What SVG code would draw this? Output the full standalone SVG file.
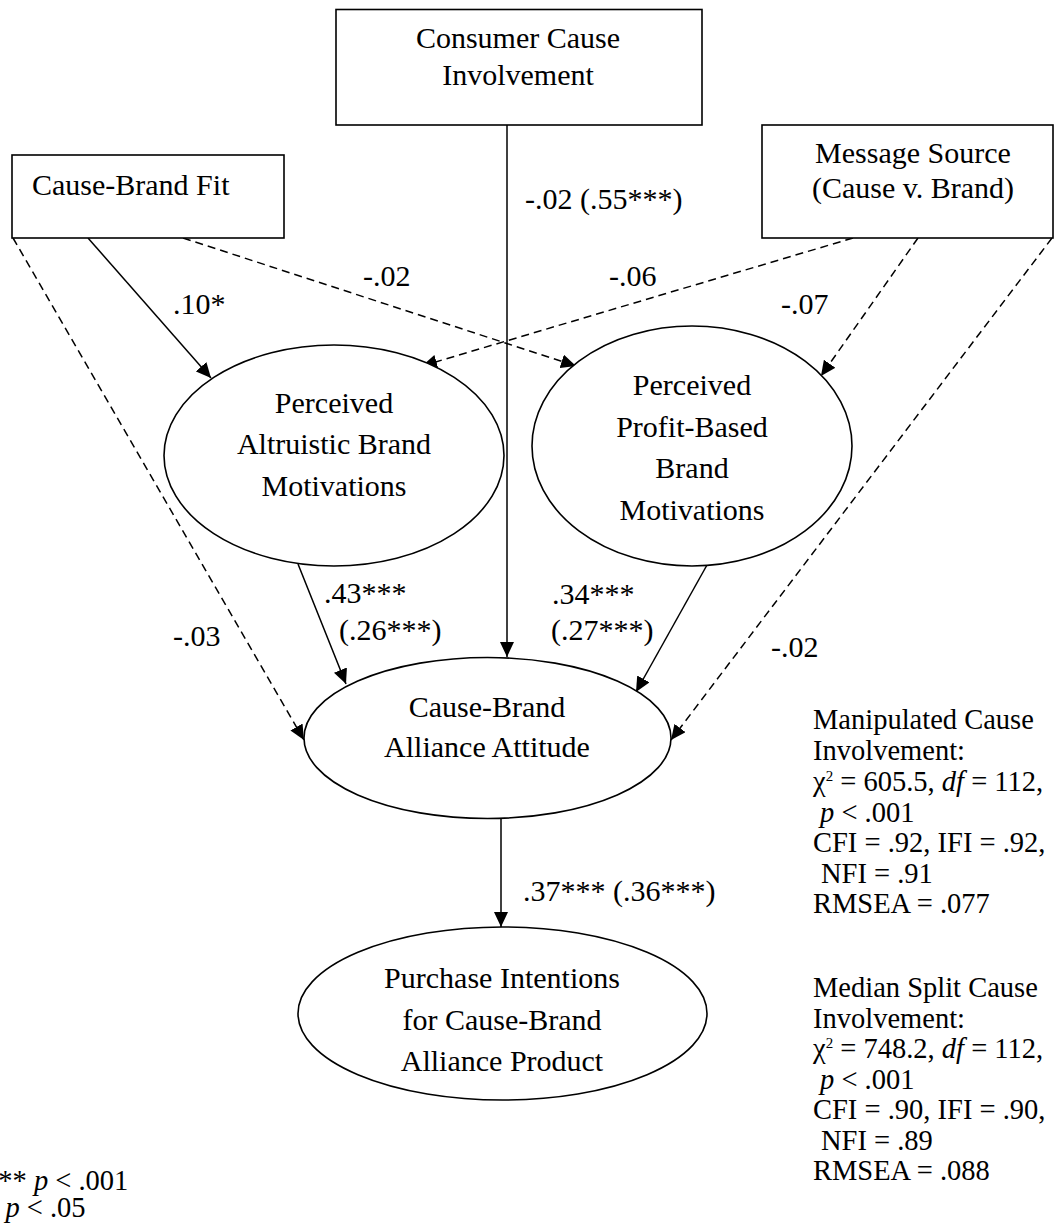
<svg xmlns="http://www.w3.org/2000/svg" width="1055" height="1232" viewBox="0 0 1055 1232">
  <style>
    .box { fill: #fff; stroke: #000; stroke-width: 1.6; }
    .oval { fill: #fff; stroke: #000; stroke-width: 1.6; }
    .t { font-family: "Liberation Serif", "Times New Roman", serif; font-size: 30px; fill: #000; }
    .c { text-anchor: middle; }
    .s { font-family: "Liberation Serif", "Times New Roman", serif; font-size: 28.5px; fill: #000; }
    .i { font-style: italic; }
    .sup { font-size: 15px; }
    .solid { fill: none; stroke: #000; stroke-width: 1.5; marker-end: url(#arrow); }
    .dash { fill: none; stroke: #000; stroke-width: 1.5; stroke-dasharray: 8 5; marker-end: url(#arrow); }
  </style>
  <defs>
    <marker id="arrow" markerUnits="userSpaceOnUse" markerWidth="16" markerHeight="14" refX="15" refY="7" orient="auto">
      <path d="M0,0 L15,7 L0,14 Z" fill="#000"/>
    </marker>
  </defs>
  <rect width="1055" height="1232" fill="#fff"/>

  <!-- paths between constructs -->
  <g id="connectors">
    <line class="solid" x1="507" y1="125" x2="507" y2="657"/>
    <line class="solid" x1="88" y1="238" x2="211" y2="378"/>
    <line class="dash" x1="13" y1="238" x2="304" y2="740"/>
    <line class="dash" x1="183" y1="238" x2="576" y2="366"/>
    <line class="dash" x1="853" y1="238" x2="422" y2="366"/>
    <line class="dash" x1="918" y1="238" x2="821" y2="376"/>
    <line class="dash" x1="1052" y1="238" x2="671" y2="740"/>
    <line class="solid" x1="298" y1="564" x2="346" y2="684"/>
    <line class="solid" x1="707" y1="565" x2="636" y2="692"/>
    <line class="solid" x1="501" y1="819" x2="501" y2="927"/>
  </g>

  <!-- path coefficients -->
  <g id="labels" class="t">
    <text x="525" y="209">-.02 (.55***)</text>
    <text x="363" y="286">-.02</text>
    <text x="609" y="286">-.06</text>
    <text x="173" y="314">.10*</text>
    <text x="781" y="314">-.07</text>
    <text x="324" y="603">.43***</text>
    <text x="339" y="640">(.26***)</text>
    <text x="552" y="604">.34***</text>
    <text x="551" y="640">(.27***)</text>
    <text x="173" y="646">-.03</text>
    <text x="771" y="657">-.02</text>
    <text x="523" y="901">.37*** (.36***)</text>
  </g>

  <g id="consumer-cause-involvement">
    <rect class="box" x="336" y="9.5" width="366" height="115.5"/>
    <text class="t c" x="518" y="48">Consumer Cause</text>
    <text class="t c" x="518" y="85">Involvement</text>
  </g>

  <g id="cause-brand-fit">
    <rect class="box" x="12" y="155" width="272" height="83"/>
    <text class="t" x="32" y="195">Cause-Brand Fit</text>
  </g>

  <g id="message-source">
    <rect class="box" x="762" y="125" width="291" height="113"/>
    <text class="t c" x="913" y="163">Message Source</text>
    <text class="t c" x="913" y="198">(Cause v. Brand)</text>
  </g>

  <g id="altruistic-motivations">
    <ellipse class="oval" cx="334" cy="455.5" rx="170" ry="110.5"/>
    <text class="t c" x="334" y="413">Perceived</text>
    <text class="t c" x="334" y="454">Altruistic Brand</text>
    <text class="t c" x="334" y="496">Motivations</text>
  </g>

  <g id="profit-motivations">
    <ellipse class="oval" cx="692" cy="446" rx="160" ry="120"/>
    <text class="t c" x="692" y="395">Perceived</text>
    <text class="t c" x="692" y="437">Profit-Based</text>
    <text class="t c" x="692" y="478">Brand</text>
    <text class="t c" x="692" y="520">Motivations</text>
  </g>

  <g id="alliance-attitude">
    <ellipse class="oval" cx="487.5" cy="738" rx="183.5" ry="80.5"/>
    <text class="t c" x="487" y="717">Cause-Brand</text>
    <text class="t c" x="487" y="757">Alliance Attitude</text>
  </g>

  <g id="purchase-intentions">
    <ellipse class="oval" cx="502.5" cy="1013.5" rx="204.5" ry="86.5"/>
    <text class="t c" x="502" y="988">Purchase Intentions</text>
    <text class="t c" x="502" y="1030">for Cause-Brand</text>
    <text class="t c" x="502" y="1071">Alliance Product</text>
  </g>

  <!-- model fit statistics -->
  <g id="fit-manipulated" class="s">
    <text x="813" y="729">Manipulated Cause</text>
    <text x="813" y="760">Involvement:</text>
    <text x="813" y="791">χ<tspan class="sup" dy="-10">2</tspan><tspan dy="10"> = 605.5, </tspan><tspan class="i">df</tspan> = 112,</text>
    <text x="820" y="822"><tspan class="i">p</tspan> &lt; .001</text>
    <text x="813" y="852">CFI = .92, IFI = .92,</text>
    <text x="821" y="883">NFI = .91</text>
    <text x="813" y="913">RMSEA = .077</text>
  </g>

  <g id="fit-median-split" class="s">
    <text x="813" y="997">Median Split Cause</text>
    <text x="813" y="1028">Involvement:</text>
    <text x="813" y="1058">χ<tspan class="sup" dy="-10">2</tspan><tspan dy="10"> = 748.2, </tspan><tspan class="i">df</tspan> = 112,</text>
    <text x="820" y="1089"><tspan class="i">p</tspan> &lt; .001</text>
    <text x="813" y="1119">CFI = .90, IFI = .90,</text>
    <text x="821" y="1150">NFI = .89</text>
    <text x="813" y="1180">RMSEA = .088</text>
  </g>

  <!-- significance key -->
  <g id="significance" class="s">
    <text x="-16" y="1190">*** <tspan class="i">p</tspan> &lt; .001</text>
    <text x="-16" y="1217">* <tspan class="i">p</tspan> &lt; .05</text>
  </g>
</svg>
